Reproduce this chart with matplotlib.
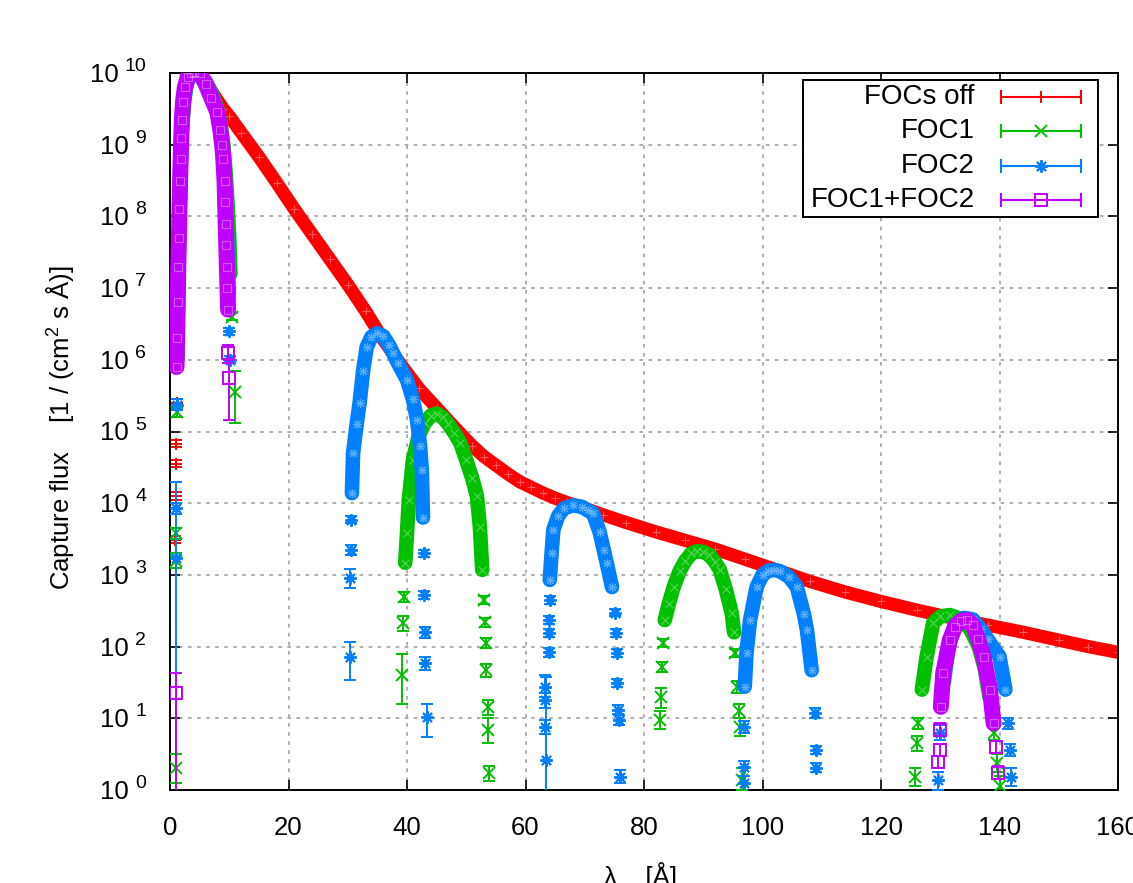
import numpy as np
import matplotlib
matplotlib.use("Agg")
import matplotlib.pyplot as plt
from matplotlib.transforms import blended_transform_factory, offset_copy
from matplotlib.ticker import NullFormatter

plt.rcParams['font.family'] = ['Liberation Sans', 'DejaVu Sans']
plt.rcParams['mathtext.fontset'] = 'custom'
plt.rcParams['mathtext.rm'] = 'Liberation Sans'
plt.rcParams['mathtext.it'] = 'Liberation Sans:italic'

labels = ['FOCs off', 'FOC1', 'FOC2', 'FOC1+FOC2']
colors = ['#ff0000', '#00c000', '#0080ff', '#c000ff']
markers = ['+', 'x', (8, 2, 0), 's']

# dense parts of the curves: lambda [A] and log10(capture flux)
red_x = [1.2, 1.3, 1.4, 1.5, 1.6, 1.8, 2.0, 2.3, 2.7, 3.2, 4.0, 5.0, 6.0, 7.0, 8.0, 9.0,
         10, 12, 15, 18, 21, 24, 27, 30, 33, 36, 39, 42, 45, 48, 51, 53, 55, 57, 59, 61, 63, 65, 67, 70,
         73, 77, 82, 87, 92, 97, 102, 108, 114, 120, 126, 132, 138, 144, 150, 155, 160]
red_lg = [6.0, 6.6, 7.1, 7.6, 8.0, 8.7, 9.2, 9.55, 9.8, 9.95, 10.0, 9.97, 9.88, 9.75, 9.62, 9.5,
          9.4, 9.17, 8.83, 8.47, 8.1, 7.75, 7.4, 7.05, 6.68, 6.28, 5.93, 5.6, 5.33, 5.06, 4.8, 4.65, 4.53, 4.41, 4.3,
          4.22, 4.14, 4.07, 4.01, 3.93, 3.84, 3.73, 3.6, 3.48, 3.36, 3.22, 3.08, 2.91, 2.76, 2.63, 2.51, 2.4, 2.3,
          2.2, 2.09, 2.0, 1.92]

foc1_arc1_x = [1.2, 1.3, 1.4, 1.5, 1.6, 1.8, 2.0, 2.3, 2.7, 3.2, 4.0, 5.0, 6.0, 7.0, 8.0, 8.5, 9.0, 9.4, 9.7, 10.0, 10.2]
foc1_arc1_lg = [6.0, 6.6, 7.1, 7.6, 8.0, 8.7, 9.2, 9.55, 9.8, 9.95, 10.0, 9.97, 9.88, 9.72, 9.5, 9.3, 9.0, 8.6, 8.2, 7.7, 7.2]
foc1_arc2_x = [39.7, 40.0, 40.3, 41.0, 42.0, 43.0, 44.0, 45.0, 46.0, 47.0, 48.0, 49.0, 50.0, 51.0, 51.8, 52.3, 52.7]
foc1_arc2_lg = [3.17, 3.58, 4.04, 4.6, 4.95, 5.12, 5.22, 5.25, 5.2, 5.1, 4.98, 4.84, 4.6, 4.35, 4.1, 3.67, 3.07]
foc1_arc3_x = [83.5, 84.2, 85.0, 86.0, 87.0, 88.0, 89.0, 90.0, 91.0, 92.0, 92.8, 93.8, 94.8, 95.2]
foc1_arc3_lg = [2.37, 2.6, 2.83, 3.05, 3.2, 3.3, 3.33, 3.32, 3.28, 3.18, 3.07, 2.8, 2.47, 2.2]
foc1_arc4_x = [126.9, 127.7, 128.8, 130.0, 131.6, 133.0, 135.0, 136.5, 137.5, 138.3]
foc1_arc4_lg = [1.4, 1.86, 2.33, 2.42, 2.44, 2.4, 2.25, 2.0, 1.7, 1.3]

foc2_arc1_x = [1.2, 1.3, 1.4, 1.5, 1.6, 1.8, 2.0, 2.3, 2.7, 3.2, 4.0, 5.0, 6.0, 7.0, 8.0, 8.5, 9.0, 9.4, 9.6, 9.8, 9.9]
foc2_arc1_lg = [6.0, 6.6, 7.1, 7.6, 8.0, 8.7, 9.2, 9.55, 9.8, 9.95, 10.0, 9.97, 9.88, 9.7, 9.45, 9.2, 8.8, 8.3, 7.8, 7.3, 6.9]
foc2_arc2_x = [30.7, 30.9, 31.5, 32.0, 32.6, 33.2, 34.0, 34.9, 36.0, 37.0, 37.6, 38.5, 40.0, 41.0, 41.7, 42.2, 42.5, 42.7]
foc2_arc2_lg = [4.14, 4.7, 5.1, 5.4, 5.85, 6.18, 6.32, 6.37, 6.33, 6.2, 6.1, 5.95, 5.72, 5.45, 5.16, 4.8, 4.46, 3.8]
foc2_arc3_x = [64.1, 64.4, 64.7, 65.5, 66.5, 68.0, 69.5, 70.5, 71.4, 72.5, 73.2, 73.7, 74.6]
foc2_arc3_lg = [2.93, 3.3, 3.63, 3.82, 3.93, 3.97, 3.95, 3.9, 3.86, 3.6, 3.35, 3.17, 2.83]
foc2_arc4_x = [97.0, 97.3, 97.9, 99.0, 100.0, 101.0, 102.0, 103.0, 104.5, 105.8, 107.0, 107.5, 108.3]
foc2_arc4_lg = [1.44, 1.91, 2.37, 2.83, 3.0, 3.06, 3.07, 3.05, 2.97, 2.83, 2.45, 2.23, 1.67]
foc2_arc5_x = [130.6, 131.4, 132.5, 134.0, 135.5, 136.8, 138.0, 140.0, 141.0]
foc2_arc5_lg = [1.5, 2.0, 2.3, 2.4, 2.38, 2.25, 2.1, 1.86, 1.4]

both_arc1_x = [1.1, 1.2, 1.3, 1.4, 1.5, 1.6, 1.7, 1.8, 1.9, 2.0, 2.2, 2.5, 3.0, 3.5, 4.0, 5.0, 6.0, 7.0,
               8.0, 8.5, 8.8, 9.0, 9.2, 9.3, 9.4, 9.5, 9.6, 9.7, 9.8]
both_arc1_lg = [5.9, 6.3, 6.8, 7.3, 7.7, 8.1, 8.5, 8.8, 9.1, 9.35, 9.6, 9.8, 9.95, 10.0, 10.02, 10.0, 9.85, 9.65,
                9.45, 9.2, 9.0, 8.8, 8.5, 8.2, 7.9, 7.6, 7.3, 7.0, 6.7]
both_arc2_x = [130.1, 130.5, 131.6, 132.5, 133.5, 134.5, 135.5, 136.4, 137.3, 138.4, 139.0]
both_arc2_lg = [1.16, 1.63, 2.09, 2.28, 2.36, 2.37, 2.3, 2.1, 1.86, 1.4, 0.93]

# isolated points with error bars: x, log10(y), log10(lower), log10(upper)
red_pts_x = [1.0, 1.0, 0.9, 1.1, 1.0]
red_pts_lg = [4.83, 4.55, 3.49, 5.4, 4.1]
red_pts_lo = [4.78, 4.5, 3.44, 5.35, 4.05]
red_pts_hi = [4.88, 4.6, 3.54, 5.45, 4.15]

foc1_pts_x = [1.0, 1.05, 1.1, 1.0, 10.4, 10.9, 39.5, 39.4, 39.2, 53.0, 53.2, 53.3, 53.4, 53.6, 53.6, 53.8,
              83.2, 83.0, 82.8, 82.7, 95.4, 95.7, 96.0, 96.2, 96.6, 126.3, 126.0, 125.7, 139.0, 139.6, 140.0]
foc1_pts_lg = [3.2, 3.58, 5.27, 0.3, 6.6, 5.55, 2.69, 2.33, 1.6, 2.65, 2.34, 2.05, 1.67, 1.16, 0.84, 0.24,
               2.05, 1.72, 1.3, 0.98, 1.91, 1.44, 1.1, 0.88, 0.14, 0.93, 0.66, 0.18, 0.8, 0.38, 0.05]
foc1_pts_lo = [3.1, 3.5, 5.2, 0.1, 6.55, 5.12, 2.62, 2.22, 1.2, 2.6, 2.28, 1.98, 1.58, 1.05, 0.65, 0.13,
               2.0, 1.65, 1.15, 0.85, 1.85, 1.35, 1.0, 0.75, 0.0, 0.85, 0.55, 0.05, 0.7, 0.25, -0.1]
foc1_pts_hi = [3.3, 3.65, 5.33, 0.5, 6.65, 5.85, 2.76, 2.42, 1.9, 2.7, 2.4, 2.12, 1.76, 1.25, 1.0, 0.33,
               2.1, 1.79, 1.42, 1.1, 1.97, 1.52, 1.2, 1.0, 0.3, 1.0, 0.75, 0.3, 0.9, 0.5, 0.2]

foc2_pts_x = [0.95, 0.95, 1.1, 10.0, 10.1, 30.6, 30.5, 30.4, 30.3, 42.8, 42.9, 43.0, 43.1, 43.3,
              64.1, 64.0, 64.0, 64.0, 63.3, 63.3, 63.3, 63.5, 75.1, 75.3, 75.4, 75.5, 75.6, 75.7, 76.0,
              96.9, 96.8, 96.8, 108.9, 109.0, 109.1, 130.0, 129.6, 141.5, 141.8, 142.0]
foc2_pts_lg = [3.93, 3.24, 5.37, 6.4, 6.0, 3.77, 3.35, 2.96, 1.86, 3.3, 2.72, 2.2, 1.77, 1.02,
               2.65, 2.37, 2.19, 1.92, 1.44, 1.25, 0.88, 0.42, 2.47, 2.19, 1.91, 1.49, 1.12, 0.98, 0.18,
               0.88, 0.32, 0.1, 1.07, 0.56, 0.31, 0.8, 0.14, 0.93, 0.56, 0.18]
foc2_pts_lo = [3.85, -1.0, 5.3, 6.35, 5.95, 3.72, 3.28, 2.82, 1.53, 3.25, 2.66, 2.12, 1.68, 0.74,
               2.6, 2.32, 2.13, 1.85, 1.3, 1.15, 0.78, -1.0, 2.42, 2.14, 1.86, 1.43, 1.06, 0.9, 0.1,
               0.8, 0.1, -1.0, 1.0, 0.5, 0.25, 0.7, 0.0, 0.85, 0.48, 0.05]
foc2_pts_hi = [4.0, 4.3, 5.45, 6.45, 6.05, 3.82, 3.42, 3.08, 2.07, 3.35, 2.78, 2.28, 1.86, 1.2,
               2.7, 2.42, 2.25, 1.98, 1.6, 1.35, 0.98, 1.58, 2.52, 2.24, 1.96, 1.55, 1.18, 1.05, 0.28,
               0.96, 0.4, 0.2, 1.14, 0.62, 0.37, 0.9, 0.25, 1.0, 0.64, 0.3]

both_pts_x = [1.0, 9.85, 9.9, 130.0, 129.9, 129.7, 139.4, 139.8]
both_pts_lg = [1.35, 6.1, 5.75, 0.84, 0.56, 0.39, 0.6, 0.24]
both_pts_lo = [-1.0, 5.95, 5.16, 0.75, 0.48, 0.3, 0.52, 0.15]
both_pts_hi = [1.63, 6.2, 6.0, 0.93, 0.64, 0.47, 0.68, 0.33]

series = [
    ([(red_x, red_lg)], (red_pts_x, red_pts_lg, red_pts_lo, red_pts_hi)),
    ([(foc1_arc1_x, foc1_arc1_lg), (foc1_arc2_x, foc1_arc2_lg), (foc1_arc3_x, foc1_arc3_lg),
      (foc1_arc4_x, foc1_arc4_lg)], (foc1_pts_x, foc1_pts_lg, foc1_pts_lo, foc1_pts_hi)),
    ([(foc2_arc1_x, foc2_arc1_lg), (foc2_arc2_x, foc2_arc2_lg), (foc2_arc3_x, foc2_arc3_lg),
      (foc2_arc4_x, foc2_arc4_lg), (foc2_arc5_x, foc2_arc5_lg)],
     (foc2_pts_x, foc2_pts_lg, foc2_pts_lo, foc2_pts_hi)),
    ([(both_arc1_x, both_arc1_lg), (both_arc2_x, both_arc2_lg)],
     (both_pts_x, both_pts_lg, both_pts_lo, both_pts_hi)),
]
band_lw = [9.5, 10.5, 10.5, 11.5]
marker_size = [9, 8, 9, 8]

fig = plt.figure(figsize=(11.33, 8.83), dpi=100)
ax = fig.add_axes([170 / 1133, 93 / 883, 948 / 1133, 717 / 883])

for i, (arcs, pts) in enumerate(series):
    c = colors[i]
    for ax_x, ax_lg in arcs:
        y = np.power(10.0, ax_lg)
        ax.plot(ax_x, y, color=c, lw=band_lw[i], solid_joinstyle='round', solid_capstyle='round', zorder=2 + i)
        ax.plot(ax_x, y, ls='none', marker=markers[i], ms=marker_size[i] * 0.7, mfc='none', mec='white',
                mew=0.8, alpha=0.35, zorder=2 + i)
    px, plg, plo, phi = [np.array(v, dtype=float) for v in pts]
    y = np.power(10.0, plg)
    lo = np.power(10.0, plo)
    hi = np.power(10.0, phi)
    ax.errorbar(px, y, yerr=[y - lo, hi - y], fmt='none', ecolor=c, elinewidth=1.4, capsize=4.5,
                capthick=1.4, zorder=2.5 + i)
    ax.plot(px, y, ls='none', marker=markers[i], ms=marker_size[i], mfc='none', mec=c, mew=1.4, zorder=2.5 + i)

ax.set_yscale('log')
ax.set_xlim(0, 160)
ax.set_ylim(1, 1e10)
ax.set_xticks(np.arange(0, 161, 20))
ax.set_yticks([10.0 ** k for k in range(11)])
ax.minorticks_off()
ax.yaxis.set_major_formatter(NullFormatter())
ax.tick_params(direction='in', length=7, width=1.2, top=True, right=True, labelsize=18.5, pad=19)
ax.grid(True, color='#a8a8a8', ls=(0, (2, 3)), lw=1.3)
ax.set_axisbelow(True)
for s in ax.spines.values():
    s.set_linewidth(1.4)

# y tick labels as 10^k
tr = blended_transform_factory(ax.transAxes, ax.transData)
for k in range(11):
    t_exp = offset_copy(tr, fig=fig, x=-24, y=2, units='dots')
    ax.text(0, 10.0 ** k, str(k), transform=t_exp, ha='right', va='baseline', fontsize=14, clip_on=False)
    w = 10.8 * len(str(k))
    t_base = offset_copy(tr, fig=fig, x=-24 - w - 6, y=-9, units='dots')
    ax.text(0, 10.0 ** k, '10', transform=t_base, ha='right', va='baseline', fontsize=18.5, clip_on=False)

fig.text(60 / 1133, 1 - 428 / 883, 'Capture flux    [1 / (cm$^2$ s Å)]', rotation=90,
         ha='center', va='center', fontsize=18.5)
fig.text(641 / 1133, 1 - 862 / 883, 'λ    [Å]', ha='center', va='top', fontsize=18.5)

# legend box drawn like gnuplot's key
box = plt.Rectangle((0.668, 0.799), 0.311, 0.191, transform=ax.transAxes, fc='white', ec='black',
                    lw=1.4, zorder=10)
ax.add_patch(box)
rows_y = [0.9665, 0.919, 0.870, 0.823]
for i, lab in enumerate(labels):
    yy = rows_y[i]
    ax.text(0.849, yy, lab, transform=ax.transAxes, ha='right', va='center', fontsize=20, zorder=11)
    ax.plot([0.877, 0.961], [yy, yy], transform=ax.transAxes, color=colors[i], lw=1.5, zorder=11)
    ax.plot([0.877, 0.961], [yy, yy], transform=ax.transAxes, ls='none', marker='|', ms=10, mew=1.5,
            color=colors[i], zorder=11)
    ax.plot([0.919], [yy], transform=ax.transAxes, ls='none', marker=markers[i], ms=marker_size[i],
            mfc='none', mec=colors[i], mew=1.4, zorder=11)

fig.savefig('out.png', dpi=100)
